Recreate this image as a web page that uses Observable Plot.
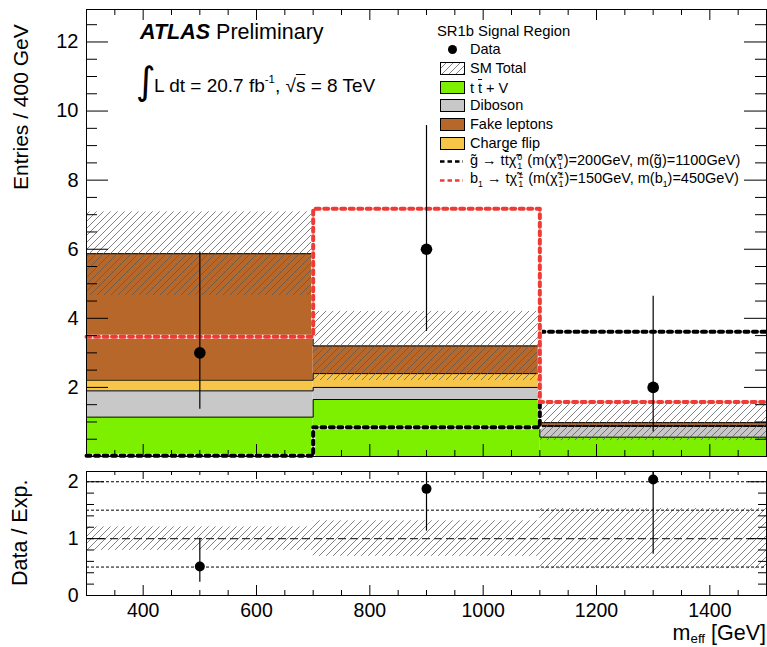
<!DOCTYPE html>
<html><head><meta charset="utf-8">
<script src="https://cdn.jsdelivr.net/npm/d3@7"></script>
<script src="https://cdn.jsdelivr.net/npm/@observablehq/plot@0.6"></script>
<style>
body{margin:0;background:#fff;font-family:"Liberation Sans",Arial,Helvetica,sans-serif;color:#000;}
#wrap{position:relative;width:767px;height:647px;overflow:hidden;background:#fff;}
#wrap svg.plot{position:absolute;left:0;}
.abs{position:absolute;white-space:nowrap;line-height:1;color:#000;}
.row{position:absolute;left:440px;height:18px;display:flex;align-items:center;white-space:nowrap;font-size:14.5px;line-height:1;}
.row svg{flex:none;margin-right:5px;}
.ss{display:inline-block;vertical-align:-0.35em;font-size:0.62em;line-height:0.95;text-align:left;margin:0 1px;}
.ol{text-decoration:overline;}
</style></head><body>
<svg width="0" height="0" style="position:absolute">
 <defs>
  <pattern id="hatch" patternUnits="userSpaceOnUse" width="7" height="7">
   <path d="M-1,1 l2,-2 M0,7 l7,-7 M6,8 l2,-2" stroke="#5a5a5a" stroke-width="0.75" fill="none"/>
  </pattern>
 </defs>
</svg>
<div id="wrap"></div>
<script>
// ---------- data ----------
const binLo = [300, 700, 1100];
const binHi = [700, 1100, 1500];
const binCenter = [500, 900, 1300];
const ttV = [1.14, 1.65, 0.56];
const diboson = [0.76, 0.35, 0.31];
const chargeFlip = [0.31, 0.40, 0.03];
const fakeLeptons = [3.66, 0.80, 0.08];
const smTotalErr = [1.21, 1.00, 0.52];
const dataCounts = [3, 6, 2];
const dataLow = [1.37, 3.62, 0.71];
const dataHigh = [5.92, 9.58, 4.64];
const sigGluino = [0.02, 0.85, 3.61];
const sigSbottom = [3.47, 7.17, 1.58];
const xMajorTicks = [400, 600, 800, 1000, 1200, 1400];
const yMajorTicks = [2, 4, 6, 8, 10, 12];
const ratioMajorTicks = [0, 1, 2];
const ratioDottedLines = [0.5, 1.5, 2];
const ratioDashedLines = [1];

const colors = {ttV:"#7df000", diboson:"#c8c8c8", chargeFlip:"#f7c548", fake:"#b7672a", red:"#ef3b36"};
const components = [
  {values: ttV, color: colors.ttV},
  {values: diboson, color: colors.diboson},
  {values: chargeFlip, color: colors.chargeFlip},
  {values: fakeLeptons, color: colors.fake}
];

// ---------- derived tables ----------
let base = binLo.map(() => 0);
const layers = components.map(c => {
  const top = base.map((b, i) => b + c.values[i]);
  const rects = binLo.map((lo, i) => ({x1: lo, x2: binHi[i], y1: base[i], y2: top[i]}));
  base = top;
  return {rects, top, color: c.color};
});
const total = base;
const stepPts = vals => [...binLo.map((x, i) => ({x, y: vals[i]})), {x: binHi[binHi.length - 1], y: vals[vals.length - 1]}];
const band = binLo.map((lo, i) => ({x1: lo, x2: binHi[i], y1: total[i] - smTotalErr[i], y2: total[i] + smTotalErr[i]}));
const dataRows = binCenter.map((x, i) => ({x, y: dataCounts[i], lo: dataLow[i], hi: dataHigh[i]}));
const ratioRows = binCenter.map((x, i) => ({x, y: dataCounts[i] / total[i], lo: dataLow[i] / total[i], hi: dataHigh[i] / total[i]}));
const ratioBand = binLo.map((lo, i) => ({x1: lo, x2: binHi[i], y1: 1 - smTotalErr[i] / total[i], y2: 1 + smTotalErr[i] / total[i]}));

const FONT = '"Liberation Sans", Arial, Helvetica, sans-serif';
const W = 767, ML = 86, MR = 1;
const FW = W - ML - MR;
const XDOM = [300, 1500];

// inward ROOT-style ticks on all four sides (lengths given in pixels, converted to data units)
function tickMarks(FH, yDom, xMinor, xMajor, yMinor, yMajor, L) {
  const ky = (yDom[1] - yDom[0]) / FH, kx = (XDOM[1] - XDOM[0]) / FW;
  const o = {stroke: "black", strokeWidth: 1};
  const bx = (ticks, len) => Plot.ruleX(ticks, {...o, x: d => d, y1: yDom[0], y2: yDom[0] + len * ky});
  const tx = (ticks, len) => Plot.ruleX(ticks, {...o, x: d => d, y1: yDom[1] - len * ky, y2: yDom[1]});
  const ly = (ticks, len) => Plot.ruleY(ticks, {...o, y: d => d, x1: XDOM[0], x2: XDOM[0] + len * kx});
  const ry = (ticks, len) => Plot.ruleY(ticks, {...o, y: d => d, x1: XDOM[1] - len * kx, x2: XDOM[1]});
  return [
    bx(xMinor, L.xmB), bx(xMajor, L.xMB), tx(xMinor, L.xmT), tx(xMajor, L.xMT),
    ly(yMinor, L.ym), ly(yMajor, L.yM), ry(yMinor, L.ym), ry(yMajor, L.yM)
  ];
}
const xMinor = d3.range(350, 1500, 50).filter(v => !xMajorTicks.includes(v));

function signal(vals, color, dash) {
  return [
    Plot.line(stepPts(vals), {x: "x", y: "y", curve: "step-after", stroke: "white", strokeWidth: 4}),
    Plot.line(stepPts(vals), {x: "x", y: "y", curve: "step-after", stroke: color, strokeWidth: 4, strokeDasharray: dash})
  ];
}

const mainH = 462, mainMT = 9, mainMB = 6, mainYDom = [0, 12.94];
const main = Plot.plot({
  width: W, height: mainH,
  marginLeft: ML, marginRight: MR, marginTop: mainMT, marginBottom: mainMB,
  x: {domain: XDOM, axis: null},
  y: {domain: mainYDom, axis: null},
  style: {fontFamily: FONT, fontSize: "20px", color: "black", background: "transparent", overflow: "visible"},
  marks: [
    ...layers.map(l => Plot.rect(l.rects, {x1: "x1", x2: "x2", y1: "y1", y2: "y2", fill: l.color})),
    ...layers.map(l => Plot.line(stepPts(l.top), {x: "x", y: "y", curve: "step-after", stroke: "black", strokeWidth: 1})),
    Plot.rect(band, {x1: "x1", x2: "x2", y1: "y1", y2: "y2", fill: "url(#hatch)"}),
    ...signal(sigGluino, "black", "4,4.5"),
    ...signal(sigSbottom, colors.red, "4,4.5"),
    Plot.ruleX(dataRows, {x: "x", y1: "lo", y2: "hi", stroke: "black", strokeWidth: 1.2}),
    Plot.dot(dataRows, {x: "x", y: "y", r: 5.8, fill: "black", stroke: null}),
    ...tickMarks(mainH - mainMT - mainMB, mainYDom, xMinor, xMajorTicks,
      d3.range(0.5, 12.95, 0.5).filter(v => v % 2 !== 0), yMajorTicks,
      {xmB: 6, xMB: 12, xmT: 6, xMT: 11, ym: 11, yM: 22}),
    Plot.axisY({anchor: "left", ticks: yMajorTicks, tickSize: 0, tickPadding: 8, label: null, tickFormat: d => String(d)}),
    Plot.frame({stroke: "black", strokeWidth: 1})
  ]
});
main.style.top = "0px";

const ratH = 185, ratMT = 9, ratMB = 52, ratYDom = [0, 2.18];
const ratio = Plot.plot({
  width: W, height: ratH,
  marginLeft: ML, marginRight: MR, marginTop: ratMT, marginBottom: ratMB,
  x: {domain: XDOM},
  y: {domain: ratYDom},
  style: {fontFamily: FONT, fontSize: "19.5px", color: "black", background: "transparent", overflow: "visible"},
  marks: [
    Plot.rect(ratioBand, {x1: "x1", x2: "x2", y1: "y1", y2: "y2", fill: "url(#hatch)"}),
    Plot.ruleY(ratioDottedLines, {stroke: "black", strokeWidth: 1, strokeDasharray: "3,2"}),
    Plot.ruleY(ratioDashedLines, {stroke: "#333", strokeWidth: 1.2, strokeDasharray: "8,4"}),
    Plot.ruleX(ratioRows, {x: "x", y1: "lo", y2: "hi", stroke: "black", strokeWidth: 1.2, clip: true}),
    Plot.dot(ratioRows, {x: "x", y: "y", r: 5, fill: "black", stroke: null}),
    ...tickMarks(ratH - ratMT - ratMB, ratYDom, xMinor, xMajorTicks,
      d3.range(0.2, 2.18, 0.2).filter(v => Math.abs(v - 1) > 0.01 && Math.abs(v - 2) > 0.01), ratioMajorTicks,
      {xmB: 5, xMB: 10, xmT: 4, xMT: 8, ym: 8, yM: 18}),
    Plot.axisY({anchor: "left", ticks: ratioMajorTicks, tickSize: 0, tickPadding: 8, label: null, tickFormat: d => String(d)}),
    Plot.axisX({anchor: "bottom", ticks: xMajorTicks, tickSize: 0, tickPadding: 8, label: null, tickFormat: d => String(d)}),
    Plot.frame({stroke: "black", strokeWidth: 1})
  ]
});
ratio.style.top = "462px";

const wrap = document.getElementById("wrap");
wrap.appendChild(main);
wrap.appendChild(ratio);

// ---------- text and legend ----------
const sw = (inner) => `<svg width="25" height="13" viewBox="0 0 25 13">${inner}</svg>`;
const boxSw = fill => sw(`<rect x="0.5" y="0.5" width="24" height="12" fill="${fill}" stroke="black" stroke-width="1"/>`);
const lineSw = (c) => sw(`<line x1="0" y1="6.5" x2="23" y2="6.5" stroke="${c}" stroke-width="2.5" stroke-dasharray="4.5,3"/>`);
const dotSw = sw(`<circle cx="12.5" cy="6.5" r="4.5" fill="black"/>`);
const legendRows = [
  {cy: 49.5, sw: dotSw, text: "Data"},
  {cy: 68.3, sw: boxSw("url(#hatch)"), text: "SM Total"},
  {cy: 87.9, sw: boxSw(colors.ttV), text: 't <span class="ol">t</span> + V'},
  {cy: 105.5, sw: boxSw(colors.diboson), text: "Diboson"},
  {cy: 124.3, sw: boxSw(colors.fake), text: "Fake leptons"},
  {cy: 143.3, sw: boxSw(colors.chargeFlip), text: "Charge flip"},
  {cy: 161.5, sw: lineSw("black"), text: 'g̃ → t<span class="ol">t</span>χ̃<span class="ss">0<br>1</span> (m(χ̃<span class="ss">0<br>1</span>)=200GeV, m(g̃)=1100GeV)'},
  {cy: 180, sw: lineSw(colors.red), text: 'b<sub style="font-size:0.6em;line-height:0">1</sub> → tχ̃<span class="ss">±<br>1</span> (m(χ̃<span class="ss">±<br>1</span>)=150GeV, m(b<sub style="font-size:0.6em;line-height:0">1</sub>)=450GeV)'}
];
let html = "";
html += `<div class="abs" style="left:437px;top:24px;font-size:14.8px">SR1b Signal Region</div>`;
for (const r of legendRows) {
  html += `<div class="row" style="top:${r.cy - 9}px">${r.sw}<span>${r.text}</span></div>`;
}
html += `<div class="abs" style="left:140px;top:22px;font-size:21.5px"><b><i>ATLAS</i></b> Preliminary</div>`;
html += `<div class="abs" style="left:136px;top:62px;font-size:38px;font-family:'DejaVu Sans'">∫</div>`;
html += `<div class="abs" style="left:154px;top:76px;font-size:19px">L dt = 20.7 fb<sup style="font-size:0.6em;line-height:0;vertical-align:0.75em">-1</sup>, √<span class="ol">s</span> = 8 TeV</div>`;
html += `<div class="abs" style="left:10px;top:190px;font-size:21px;transform-origin:0 0;transform:rotate(-90deg)">Entries / 400 GeV</div>`;
html += `<div class="abs" style="left:10px;top:586px;font-size:21.5px;transform-origin:0 0;transform:rotate(-90deg)">Data / Exp.</div>`;
html += `<div class="abs" style="right:1px;top:624px;font-size:21.5px;line-height:0.85">m<sub style="font-size:0.62em;line-height:0;vertical-align:-0.2em">eff</sub> [GeV]</div>`;
wrap.insertAdjacentHTML("beforeend", html);
</script>
</body></html>
